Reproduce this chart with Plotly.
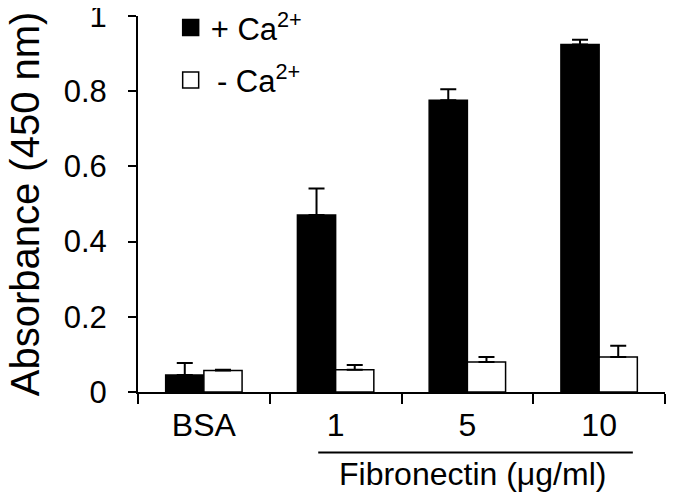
import plotly.graph_objects as go

categories = ["BSA", "1", "5", "10"]
with_ca = [0.045, 0.471, 0.776, 0.924]
with_ca_err = [0.032, 0.070, 0.029, 0.013]
without_ca = [0.057, 0.059, 0.080, 0.093]
without_ca_err = [0.002, 0.013, 0.013, 0.030]
y_ticks = [0, 0.2, 0.4, 0.6, 0.8, 1]
y_tick_labels = ["0", "0.2", "0.4", "0.6", "0.8", "1"]

FONT = "Liberation Sans, Arial, sans-serif"
# the page body adds an 8px margin, so the figure is sized/offset to compensate
W, H = 677, 495

fig = go.Figure()
fig.add_trace(
    go.Bar(
        x=categories,
        y=with_ca,
        name="+ Ca<sup>2+</sup>",
        showlegend=False,
        marker=dict(color="black", line=dict(color="black", width=1.5)),
        error_y=dict(type="data", symmetric=False, array=with_ca_err,
                     arrayminus=[0] * len(with_ca_err), color="black", thickness=2, width=8),
    )
)
fig.add_trace(
    go.Bar(
        x=categories,
        y=without_ca,
        name="- Ca<sup>2+</sup>",
        showlegend=False,
        marker=dict(color="white", line=dict(color="black", width=1.5)),
        error_y=dict(type="data", symmetric=False, array=without_ca_err,
                     arrayminus=[0] * len(without_ca_err), color="black", thickness=2, width=8),
    )
)

# legend entries with bigger square swatches
for name, fill, group in (("+ Ca<sup>2+</sup>", "black", "a"), ("\u2009- Ca<sup>2+</sup>", "white", "b")):
    fig.add_trace(
        go.Scatter(
            x=[None], y=[None], mode="markers", name=name, legendgroup=group,
            marker=dict(symbol="square", size=16, color=fill, line=dict(color="black", width=1.5)),
        )
    )

# bracket + label under the fibronectin concentrations
fig.add_shape(type="line", xref="paper", yref="paper", x0=0.342, x1=0.939, y0=-0.161, y1=-0.161,
              line=dict(color="black", width=2))
fig.add_annotation(text="Fibronectin (μg/ml)", xref="paper", yref="paper", x=0.635, y=-0.272,
                   showarrow=False, font=dict(size=32, color="black", family=FONT))
# y axis title
fig.add_annotation(text="Absorbance (450 nm)", xref="paper", yref="paper", x=-0.214, y=0.5,
                   xanchor="center", yanchor="middle",
                   textangle=-90, showarrow=False, font=dict(size=40, color="black", family=FONT))

fig.update_layout(
    width=W,
    height=H,
    plot_bgcolor="white",
    paper_bgcolor="white",
    barmode="group",
    bargap=0.42,
    bargroupgap=0,
    margin=dict(l=130, r=20, t=8, b=111, autoexpand=False),
    font=dict(family=FONT, color="black"),
    legend=dict(x=0.062, y=1.04, xanchor="left", yanchor="top", bgcolor="rgba(0,0,0,0)",
                font=dict(size=31), tracegroupgap=9),
    showlegend=True,
)
fig.update_xaxes(
    showline=True, linecolor="black", linewidth=2, automargin=False,
    ticks="outside", tickson="boundaries", ticklen=10, tickwidth=2, tickcolor="black",
    tickfont=dict(size=32), ticklabelstandoff=4, showgrid=False,
)
fig.update_yaxes(
    range=[0, 1], showline=True, linecolor="black", linewidth=2, automargin=False,
    ticks="outside", ticklen=8, tickwidth=2, tickcolor="black",
    tickvals=y_ticks, ticktext=y_tick_labels, tickfont=dict(size=31),
    ticklabelstandoff=15, ticklabeloverflow="allow",
    showgrid=False, zeroline=False,
)

fig.write_html("out.html")
